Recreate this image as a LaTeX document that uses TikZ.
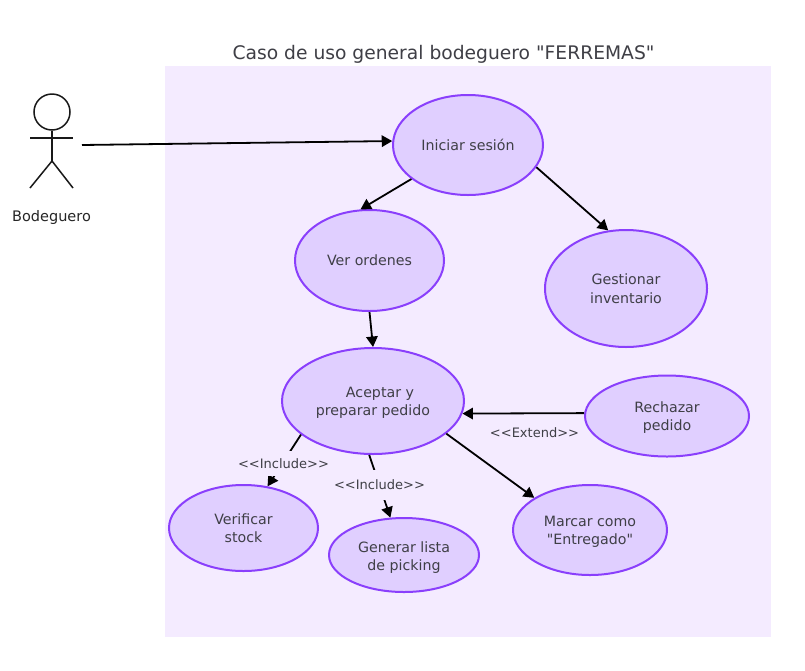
\documentclass[tikz,border=0pt]{standalone}
\usepackage{fontspec}
\newfontfamily\uifont{DejaVu Sans}
\usetikzlibrary{shapes.geometric,arrows.meta}
\definecolor{panelc}{HTML}{F4EBFF}
\definecolor{ufill}{HTML}{E0CFFF}
\definecolor{ustroke}{HTML}{8A3FFC}
\definecolor{tc}{HTML}{3F3F46}
\newcommand{\lowtext}[2]{\raisebox{-#1}[\height][\depth]{\begin{tabular}{@{}c@{}}#2\end{tabular}}}
\tikzset{
  usecase/.style={ellipse,draw=ustroke,fill=ufill,line width=2pt,inner sep=0pt,align=center,text=tc,font=\uifont\fontsize{14.2}{18.5}\selectfont},
  conn/.style={draw=black,line width=1.8pt,-{Triangle[length=10.5pt,width=11.5pt]}},
  stereo/.style={fill=panelc,inner sep=0pt,text=tc,font=\uifont\fontsize{13}{15}\selectfont},
  stick/.style={line width=1.5pt,draw=black!90}
}
\begin{document}
\begin{tikzpicture}[x=1pt,y=-1pt]
\useasboundingbox (0,0) rectangle (805,670);
\fill[white] (0,0) rectangle (805,670);
\node[fill=panelc,minimum width=606pt,minimum height=571pt,inner sep=0pt] (panel) at (468,351.5) {};
\node[text=tc,font=\uifont\fontsize{18.7}{22}\selectfont] (title) at (443.5,54) {Caso de uso general bodeguero "FERREMAS"};
% actor
\node[circle,draw=black!90,line width=1.5pt,minimum size=36pt,inner sep=0pt] (head) at (52,112) {};
\coordinate (hip) at (52,161);
\coordinate (armL) at (30,138);
\coordinate (armR) at (73,138);
\coordinate (legL) at (30,188);
\coordinate (legR) at (73,188);
\draw[stick] (head.south) -- (hip);
\draw[stick] (armL) -- (armR);
\draw[stick] (legL) -- (hip) -- (legR);
\node[text=black!85,font=\uifont\fontsize{14.5}{17}\selectfont] (actor) at (51.5,217) {Bodeguero};
\coordinate (actorhand) at (82,145);
% use cases
\node[usecase,minimum width=150pt,minimum height=100pt] (ini) at (468,145) {Iniciar sesión};
\node[usecase,minimum width=149pt,minimum height=101pt] (ver) at (369.5,260.5) {\lowtext{1.5pt}{Ver ordenes}};
\node[usecase,minimum width=162pt,minimum height=117pt] (ges) at (626,288.5) {\lowtext{2pt}{Gestionar\\inventario}};
\node[usecase,minimum width=182pt,minimum height=106pt] (ace) at (373,401) {\lowtext{2pt}{\hspace*{14pt}Aceptar y\\preparar pedido}};
\node[usecase,minimum width=164pt,minimum height=81pt] (rec) at (667,416) {\lowtext{2pt}{Rechazar\\pedido}};
\node[usecase,minimum width=149pt,minimum height=86pt] (vst) at (243.5,528) {\lowtext{2pt}{Verificar\\stock}};
\node[usecase,minimum width=150pt,minimum height=74pt] (gen) at (404,555) {\lowtext{3pt}{Generar lista\\de picking}};
\node[usecase,minimum width=154pt,minimum height=90pt] (mar) at (590,530) {\lowtext{2pt}{Marcar como\\"Entregado"}};
% connectors
\draw[conn] (actorhand) -- (ini.177);
\draw[conn] (ini.211.7) -- (ver.100.6);
\draw[conn] (ini.-18.7) -- (ges.107.4);
\draw[conn] (ver.270) -- (ace.90);
\draw[conn] (rec.178.6) -- (ace.-8.4);
\draw[conn] (ace.-24.6) -- (mar.150.3);
\draw[conn] (ace.205.6) -- (vst.60.2);
\draw[conn] (ace.266.8) -- (gen.110.7);
% connector labels
\node[stereo,minimum width=92pt,minimum height=25pt] (inc1) at (283.5,463.5) {<{}<Include>{}>};
\node[stereo,minimum width=92pt,minimum height=30pt] (inc2) at (379.5,484.5) {<{}<Include>{}>};
\node[stereo] (ext) at (534.5,433) {<{}<Extend>{}>};
\end{tikzpicture}
\end{document}
